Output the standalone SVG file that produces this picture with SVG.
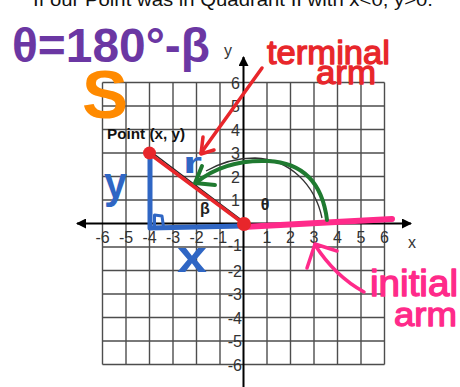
<svg xmlns="http://www.w3.org/2000/svg" width="460" height="387" viewBox="0 0 460 387">
<style>
.grid line{stroke:#4d4d4d;stroke-width:1.4}
.axis{stroke:#000;stroke-width:2;fill:none}
.tick{font-family:"Liberation Sans",Arial,sans-serif;font-size:16px;fill:#333}
.tx{text-anchor:middle}
.ty{text-anchor:end}
.hand{font-family:"Liberation Sans",Arial,sans-serif;font-weight:bold}
.pen{font-family:"Liberation Sans",Arial,sans-serif;stroke-width:1.3;stroke-linejoin:round}
.ink{fill:none;stroke-linecap:round;stroke-linejoin:round}
</style>
<defs>
<marker id="ah" viewBox="0 0 10 10" refX="9" refY="5" markerWidth="10" markerHeight="10" markerUnits="userSpaceOnUse" orient="auto"><path d="M0,0 L10,5 L0,10 Z" fill="#000"/></marker>
</defs>
<rect width="460" height="387" fill="#fff"/>
<text x="33" y="6" font-family="'Liberation Sans',Arial,sans-serif" font-size="18" fill="#111" textLength="400" lengthAdjust="spacingAndGlyphs">If our Point was in Quadrant II with x&lt;0, y&gt;0.</text>

<g id="grid" class="grid">
<line x1="102.5" y1="82.5" x2="102.5" y2="364.5"/>
<line x1="126" y1="82.5" x2="126" y2="364.5"/>
<line x1="149.5" y1="82.5" x2="149.5" y2="364.5"/>
<line x1="173" y1="82.5" x2="173" y2="364.5"/>
<line x1="196.5" y1="82.5" x2="196.5" y2="364.5"/>
<line x1="220" y1="82.5" x2="220" y2="364.5"/>
<line x1="267" y1="82.5" x2="267" y2="364.5"/>
<line x1="290.5" y1="82.5" x2="290.5" y2="364.5"/>
<line x1="314" y1="82.5" x2="314" y2="364.5"/>
<line x1="337.5" y1="82.5" x2="337.5" y2="364.5"/>
<line x1="361" y1="82.5" x2="361" y2="364.5"/>
<line x1="384.5" y1="82.5" x2="384.5" y2="364.5"/>
<line x1="102.5" y1="82.5" x2="384.5" y2="82.5"/>
<line x1="102.5" y1="106" x2="384.5" y2="106"/>
<line x1="102.5" y1="129.5" x2="384.5" y2="129.5"/>
<line x1="102.5" y1="153" x2="384.5" y2="153"/>
<line x1="102.5" y1="176.5" x2="384.5" y2="176.5"/>
<line x1="102.5" y1="200" x2="384.5" y2="200"/>
<line x1="102.5" y1="247" x2="384.5" y2="247"/>
<line x1="102.5" y1="270.5" x2="384.5" y2="270.5"/>
<line x1="102.5" y1="294" x2="384.5" y2="294"/>
<line x1="102.5" y1="317.5" x2="384.5" y2="317.5"/>
<line x1="102.5" y1="341" x2="384.5" y2="341"/>
<line x1="102.5" y1="364.5" x2="384.5" y2="364.5"/>
</g>

<g id="axes">
<line class="axis" x1="244" y1="223.5" x2="411" y2="223.5" marker-end="url(#ah)"/>
<line class="axis" x1="243" y1="223.5" x2="77" y2="223.5" marker-end="url(#ah)"/>
<line class="axis" x1="243.5" y1="387" x2="243.5" y2="57" marker-end="url(#ah)"/>
<text class="tick tx" x="228" y="56">y</text>
<text class="tick tx" x="412" y="248">x</text>
</g>

<g id="x-ticks" class="tick tx">
<text x="102.5" y="243">-6</text>
<text x="126" y="243">-5</text>
<text x="149.5" y="243">-4</text>
<text x="173" y="243">-3</text>
<text x="196.5" y="243">-2</text>
<text x="220" y="243">-1</text>
<text x="267" y="243">1</text>
<text x="290.5" y="243">2</text>
<text x="314" y="243">3</text>
<text x="337.5" y="243">4</text>
<text x="361" y="243">5</text>
<text x="384.5" y="243">6</text>
</g>
<g id="y-ticks" class="tick ty">
<text x="240" y="88.5">6</text>
<text x="240" y="112">5</text>
<text x="240" y="135.5">4</text>
<text x="240" y="159">3</text>
<text x="240" y="182.5">2</text>
<text x="240" y="206">1</text>
<text x="242" y="251">-1</text>
<text x="242" y="276.5">-2</text>
<text x="242" y="300">-3</text>
<text x="242" y="323.5">-4</text>
<text x="242" y="347">-5</text>
<text x="242" y="370.5">-6</text>
</g>

<g id="original-figure">
<line x1="150" y1="151" x2="243.5" y2="221.5" stroke="#222" stroke-width="1.5"/>
<path d="M206,171 C222,162 238,158 255,158 C290,159 315,185 322,218" fill="none" stroke="#333" stroke-width="1.3"/>
<text x="146" y="139" font-family="'Liberation Sans',Arial,sans-serif" font-size="14.5" font-weight="bold" fill="#111" text-anchor="middle" textLength="78" lengthAdjust="spacingAndGlyphs">Point (x, y)</text>
<text x="205" y="214" font-family="'Liberation Sans',Arial,sans-serif" font-size="16" font-weight="bold" fill="#222" text-anchor="middle">β</text>
<text x="265" y="210" font-family="'Liberation Sans',Arial,sans-serif" font-size="16" font-weight="bold" fill="#222" text-anchor="middle">θ</text>
</g>

<g id="initial-arm">
<path class="ink" d="M243,227 L392,219" stroke="#ff2a8a" stroke-width="6"/>
<path class="ink" d="M364,292 Q335,276 315,245" stroke="#ff2a8a" stroke-width="3.5"/>
<path class="ink" d="M307,268 L315,244 L337,251" stroke="#ff2a8a" stroke-width="3.5"/>
<text class="pen" x="370" y="296" font-size="36" fill="#ff2a8a" stroke="#ff2a8a" textLength="88" lengthAdjust="spacingAndGlyphs">initial</text>
<text class="pen" x="394" y="326" font-size="34" fill="#ff2a8a" stroke="#ff2a8a" textLength="63" lengthAdjust="spacingAndGlyphs">arm</text>
</g>

<g id="triangle">
<path class="ink" d="M150,155 L150,228 L243,226" stroke="#2f66c4" stroke-width="5"/>
<path class="ink" d="M154.5,227 L154.5,215 L162,216 L163.5,227" stroke="#2f66c4" stroke-width="3"/>
<text class="hand" x="104" y="198" font-size="45" fill="#2f66c4" textLength="23" lengthAdjust="spacingAndGlyphs">y</text>
<text class="hand" x="177" y="272" font-size="44" fill="#2f66c4" textLength="30" lengthAdjust="spacingAndGlyphs">x</text>
<text class="hand" x="183" y="173" font-size="29" fill="#2f66c4" textLength="19" lengthAdjust="spacingAndGlyphs">r</text>
</g>

<g id="terminal-arm">
<line class="ink" x1="150" y1="154" x2="243.5" y2="223.5" stroke="#e8262b" stroke-width="3.5"/>
<circle cx="149.5" cy="153" r="6.5" fill="#e8262b"/>
<circle cx="244" cy="224" r="7" fill="#e8262b"/>
<path class="ink" d="M262,68 L201,153" stroke="#e8262b" stroke-width="3.5"/>
<path class="ink" d="M203,137 L201,154 L214,150" stroke="#e8262b" stroke-width="3.5"/>
<text class="pen" x="267" y="64" font-size="34" fill="#e8262b" stroke="#e8262b" textLength="123" lengthAdjust="spacingAndGlyphs">terminal</text>
<text class="pen" x="316" y="84" font-size="34" fill="#e8262b" stroke="#e8262b" textLength="60" lengthAdjust="spacingAndGlyphs">arm</text>
</g>

<g id="angle-arc">
<path class="ink" d="M327,220 C323,188 307,163 268,161 C242,160 218,165 197,182" stroke="#1f7a30" stroke-width="4"/>
<path class="ink" d="M202,166 L195,183 L215,185" stroke="#1f7a30" stroke-width="4"/>
</g>

<g id="formula">
<text class="hand" x="12" y="62" font-size="48" fill="#6b37a3" textLength="198" lengthAdjust="spacingAndGlyphs">θ=180°-β</text>
<text class="hand" x="82" y="118" font-size="69" fill="#ff8a00">S</text>
</g>
</svg>
